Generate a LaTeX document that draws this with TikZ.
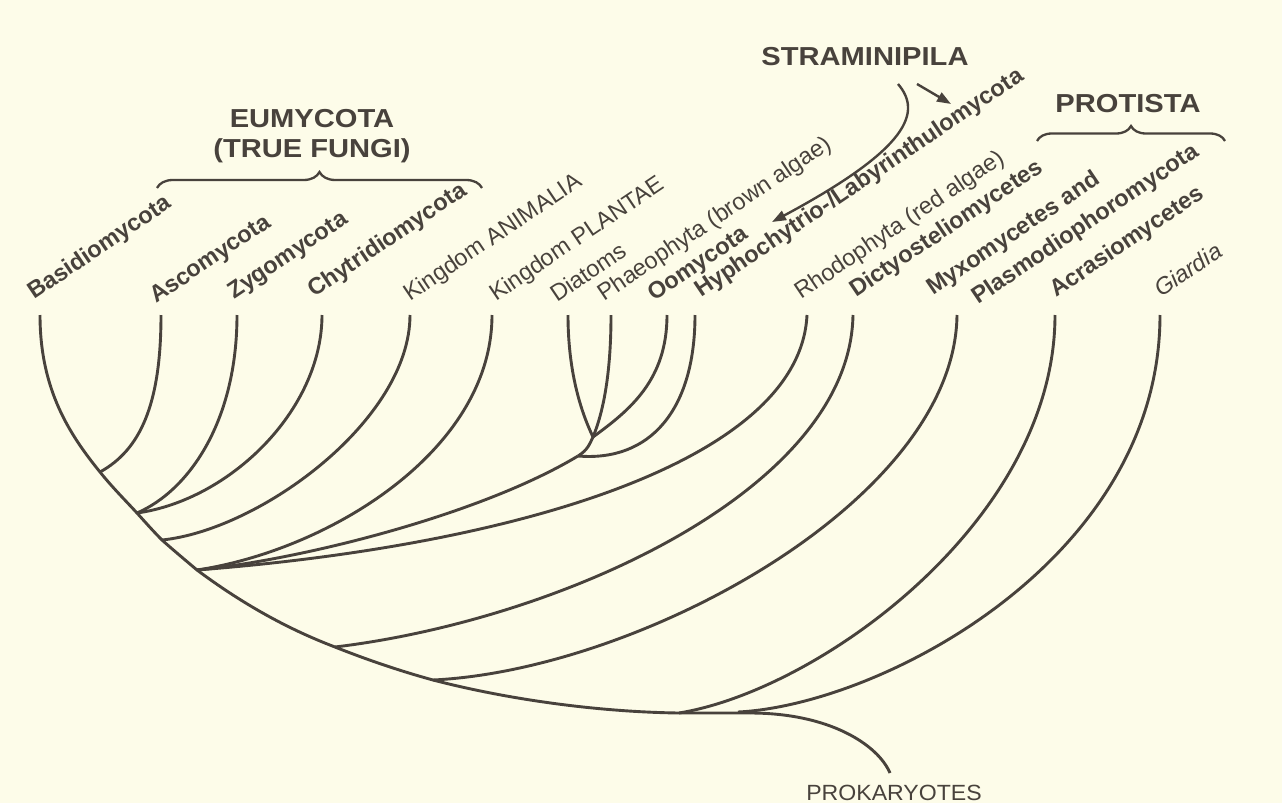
\documentclass[tikz,border=0pt]{standalone}
\usepackage{fontspec}
\setmainfont{Liberation Sans}
\usetikzlibrary{arrows.meta,decorations.pathreplacing}
\definecolor{bg}{RGB}{253,252,233}
\definecolor{ink}{RGB}{72,66,60}
\begin{document}
\begin{tikzpicture}[x=1pt,y=-1pt,
  br/.style={draw=ink, line width=2.9pt},
  lab/.style={text=ink, inner sep=0pt, anchor=base west, rotate=34, font=\fontsize{23.5}{28}\selectfont},
  labb/.style={lab, font=\fontsize{23.5}{28}\selectfont\bfseries},
  labi/.style={lab, font=\fontsize{23.5}{28}\selectfont\itshape},
  head/.style={text=ink, inner sep=0pt, font=\fontsize{26}{30}\selectfont\bfseries, xscale=1.12, anchor=base},
  brc/.style={draw=ink, line width=2.3pt, decorate, decoration={brace, amplitude=16pt}},
  arr/.style={draw=ink, line width=2.4pt, -{Triangle[length=14pt,width=10pt]}}]
\fill[bg] (0,0) rectangle (1282,803);
\useasboundingbox (0,0) rectangle (1282,803);
% tips
\coordinate (t1) at (40,315);
\coordinate (t2) at (161,315);
\coordinate (t3) at (237,315);
\coordinate (t4) at (322,315);
\coordinate (t5) at (410,315);
\coordinate (t6) at (492,315);
\coordinate (t7) at (568,315);
\coordinate (t8) at (611,315);
\coordinate (t9) at (667,315);
\coordinate (t10) at (695,315);
\coordinate (t11) at (807,315);
\coordinate (t12) at (853,315);
\coordinate (t13) at (957,315);
\coordinate (t14) at (1055,315);
\coordinate (t15) at (1160,315);
% junctions
\coordinate (jA) at (100,472);
\coordinate (jZ) at (137,513);
\coordinate (jAn) at (162,540);
\coordinate (jF) at (197,570);
\coordinate (jS1) at (578,456);
\coordinate (jS2) at (593,437);
\coordinate (jD) at (335,647);
\coordinate (jM) at (433,680);
\coordinate (jAc) at (679,713);
\coordinate (jG) at (738,712);
\coordinate (jP) at (750,713);
\coordinate (pk) at (890,773);
% trunk
\draw[br] (t1) .. controls (40,390) and (70,435) .. (jA)
  .. controls (112,487) and (125,500) .. (jZ)
  .. controls (146,523) and (154,532) .. (jAn)
  .. controls (172,549) and (184,559) .. (jF)
  .. controls (240,602) and (285,628) .. (jD)
  .. controls (365,659) and (400,671) .. (jM)
  .. controls (510,700) and (600,712) .. (jAc)
  -- (jP);
\draw[br] (jP) .. controls (830,713) and (878,745) .. (pk);
% branches
\draw[br] (t2) .. controls (161,405) and (140,450) .. (jA);
\draw[br] (t3) .. controls (237,420) and (190,490) .. (jZ);
\draw[br] (t4) .. controls (322,410) and (230,500) .. (jZ);
\draw[br] (t5) .. controls (410,420) and (260,530) .. (jAn);
\draw[br] (t6) .. controls (492,450) and (330,550) .. (jF);
\draw[br] (jF) .. controls (300,560) and (480,515) .. (jS1);
\draw[br] (jS1) .. controls (588,450) and (590,443) .. (jS2);
\draw[br] (t7) .. controls (568,380) and (585,420) .. (jS2);
\draw[br] (t8) .. controls (611,385) and (600,420) .. (jS2);
\draw[br] (t9) .. controls (667,380) and (630,410) .. (jS2);
\draw[br] (t10) .. controls (695,410) and (650,462) .. (jS1);
\draw[br] (t11) .. controls (800,460) and (520,545) .. (jF);
\draw[br] (t12) .. controls (850,490) and (560,620) .. (jD);
\draw[br] (t13) .. controls (955,500) and (640,670) .. (jM);
\draw[br] (t14) .. controls (1055,520) and (820,690) .. (jAc);
\draw[br] (t15) .. controls (1160,560) and (880,705) .. (jG);
% labels
\node[labb] (l1) at (34,300) {Basidiomycota};
\node[labb] (l2) at (156,304) {Ascomycota};
\node[labb] (l3) at (234,300) {Zygomycota};
\node[labb] (l4) at (314,298) {Chytridiomycota};
\node[lab] (l5) at (410,302) {Kingdom ANIMALIA};
\node[lab] (l6) at (496,302) {Kingdom PLANTAE};
\node[lab] (l7) at (557,303) {Diatoms};
\node[lab] (l8) at (604,302) {Phaeophyta (brown algae)};
\node[labb] (l9) at (654,302) {Oomycota};
\node[labb] (l10) at (701,298) {Hyphochytrio-/Labyrinthulomycota};
\node[lab] (l11) at (801,300) {Rhodophyta (red algae)};
\node[labb] (l12) at (856,298) {Dictyosteliomycetes};
\node[labb] (l13a) at (933,296) {Myxomycetes and};
\node[labb] (l13b) at (978,305) {Plasmodiophoromycota};
\node[labb] (l14) at (1056,298) {Acrasiomycetes};
\node[labi] (l15) at (1161,298) {Giardia};
\node[text=ink, inner sep=0pt, anchor=base, font=\fontsize{22}{26}\selectfont, xscale=1.05] (prok) at (894,800) {PROKARYOTES};
% headers
\node[head] (eu1) at (312,127) {EUMYCOTA};
\node[head] (eu2) at (312,157) {(TRUE FUNGI)};
\node[head] (stram) at (865,65) {STRAMINIPILA};
\node[head] (prot) at (1128,112) {PROTISTA};
% braces
\coordinate (b1s) at (157,188);
\coordinate (b1e) at (482,188);
\coordinate (b2s) at (1037,141);
\coordinate (b2e) at (1225,141);
\draw[brc] (b1s) -- (b1e);
\draw[brc, decoration={brace, amplitude=15pt}] (b2s) -- (b2e);
% straminipila arrows
\coordinate (a1s) at (898,84);
\coordinate (a1e) at (772,222);
\coordinate (a2s) at (917,84);
\coordinate (a2e) at (951,104);
\draw[arr] (a1s) .. controls (922,112) and (910,148) .. (a1e);
\draw[arr] (a2s) -- (a2e);
\end{tikzpicture}
\end{document}
